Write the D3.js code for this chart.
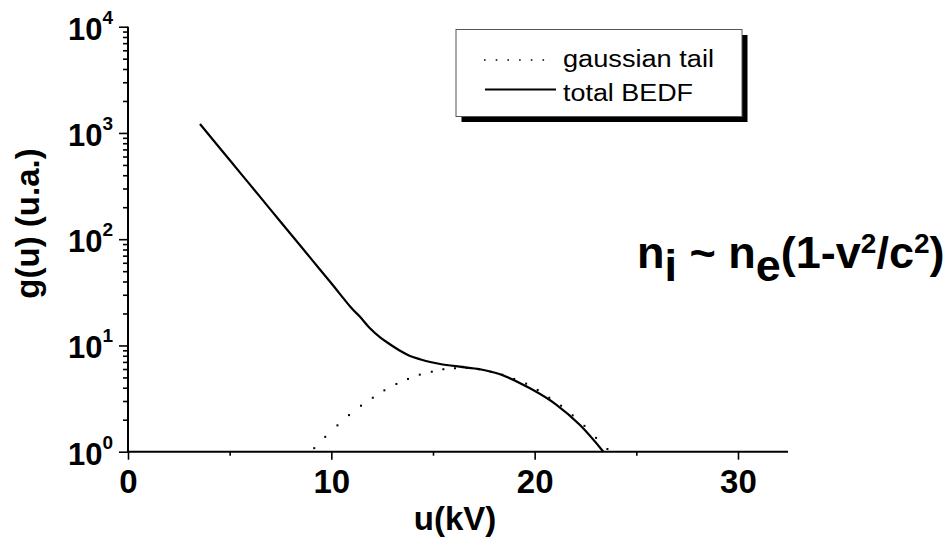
<!DOCTYPE html>
<html>
<head>
<meta charset="utf-8">
<script src="https://cdn.jsdelivr.net/npm/d3@7"></script>
<style>
  html, body { margin: 0; padding: 0; background: #fff; }
  svg { display: block; }
  text { font-family: "Liberation Sans", Arial, sans-serif; fill: #000; }
</style>
</head>
<body>
<div id="chart"></div>
<script>
// data
var totalU = [3.54, 5.0, 6.0, 7.0, 8.0, 9.0, 10.0, 11.0, 11.41, 11.9, 12.4, 12.9, 13.38, 13.87, 14.36, 14.86, 15.35,
              16.30, 17.31, 18.30, 19.77, 21.09, 22.23, 23.38];
var totalG = [1214, 556, 326, 191, 112, 65.6, 38.5, 22.4, 18.6, 14.5, 11.9, 10.2, 8.9, 7.96, 7.41, 6.99, 6.69,
              6.31, 5.97, 5.35, 3.95, 2.75, 1.78, 1.0];

var gaussU = [9.16, 9.70, 10.30, 10.87, 11.46, 12.04, 12.61, 13.20, 13.77, 14.35, 14.94, 15.51, 16.08, 16.66,
              17.27, 17.84, 18.41, 18.99, 19.58, 20.15, 20.72, 21.30, 21.87, 22.45, 23.02, 23.58];
var gaussG = [1.08, 1.38, 1.77, 2.21, 2.71, 3.22, 3.78, 4.34, 4.84, 5.31, 5.66, 5.97, 6.10, 6.15,
              5.97, 5.66, 5.31, 4.84, 4.37, 3.81, 3.22, 2.71, 2.20, 1.75, 1.35, 1.06];

var xTicks = [0, 10, 20, 30];
var xMinor = [5, 15, 25];
var yDecades = [1, 10, 100, 1000, 10000];
var yExponents = ['0', '1', '2', '3', '4'];
var legendLabels = ['gaussian tail', 'total BEDF'];

var Chart = (function () {
    var W = 949, H = 539;
    var pLeft = 128, pRight = 788, pTop = 26.7, pBottom = 451.7;

    var svg = d3.select('#chart').append('svg')
        .attr('width', W)
        .attr('height', H);

    var x = d3.scaleLinear().domain([0, 32.46]).range([pLeft, pRight]);
    var y = d3.scaleLog().domain([1, 10000]).range([pBottom, pTop]);

    // minor log ticks 2..9 per decade
    var yMinor = [];
    yDecades.slice(0, -1).forEach(function (d) {
        for (var k = 2; k <= 9; k++) yMinor.push(d * k);
    });

    // y axis
    var yAxisMinor = svg.append('g')
        .attr('transform', 'translate(' + pLeft + ',0)')
        .call(d3.axisLeft(y).tickValues(yMinor).tickSize(5).tickFormat(''));
    var yAxis = svg.append('g')
        .attr('transform', 'translate(' + pLeft + ',0)')
        .call(d3.axisLeft(y).tickValues(yDecades).tickSize(9).tickFormat(''));

    // x axis
    var xAxisMinor = svg.append('g')
        .attr('transform', 'translate(0,' + pBottom + ')')
        .call(d3.axisBottom(x).tickValues(xMinor).tickSize(4).tickFormat(''));
    var xAxis = svg.append('g')
        .attr('transform', 'translate(0,' + pBottom + ')')
        .call(d3.axisBottom(x).tickValues(xTicks).tickSize(8).tickFormat(d3.format('d')));

    svg.selectAll('.domain').attr('stroke', '#000').attr('stroke-width', 2);
    svg.selectAll('.tick line').attr('stroke', '#000').attr('stroke-width', 1.6);
    yAxisMinor.select('.domain').remove();
    xAxisMinor.select('.domain').remove();
    yAxis.select('.domain').attr('d', 'M0,' + pTop + 'V' + (pBottom + 1));
    xAxis.select('.domain').attr('d', 'M' + (pLeft - 1) + ',0H' + pRight);

    xAxis.selectAll('.tick text')
        .attr('y', 41)
        .attr('dy', null)
        .attr('fill', '#000')
        .style('font-size', '33px')
        .style('font-weight', 'bold')
        .style('font-family', '"Liberation Sans", Arial, sans-serif');

    // y tick labels: 10 with superscript exponent
    yDecades.forEach(function (d, i) {
        var t = svg.append('text')
            .attr('x', 113)
            .attr('y', y(d) + 13)
            .attr('text-anchor', 'end')
            .style('font-weight', 'bold')
            .style('font-size', '31px')
            .text('10');
        t.append('tspan')
            .attr('dy', -16)
            .style('font-size', '19px')
            .text(yExponents[i]);
    });

    // axis titles
    svg.append('text')
        .attr('x', 455)
        .attr('y', 530)
        .attr('text-anchor', 'middle')
        .style('font-weight', 'bold')
        .style('font-size', '33px')
        .text('u(kV)');

    svg.append('text')
        .attr('transform', 'translate(39,223.5) rotate(-90)')
        .attr('text-anchor', 'middle')
        .style('font-weight', 'bold')
        .style('font-size', '33px')
        .text('g(u) (u.a.)');

    // curves
    svg.append('clipPath').attr('id', 'plotClip')
      .append('rect')
        .attr('x', pLeft).attr('y', pTop)
        .attr('width', pRight - pLeft).attr('height', pBottom - pTop + 1);

    var totalData = totalU.map(function (u, i) { return [u, totalG[i]]; });
    var gaussData = gaussU.map(function (u, i) { return [u, gaussG[i]]; });

    var line = d3.line()
        .x(function (d) { return x(d[0]); })
        .y(function (d) { return y(d[1]); })
        .curve(d3.curveCatmullRom.alpha(0.5));

    var plot = svg.append('g').attr('clip-path', 'url(#plotClip)');

    plot.append('path')
        .datum(totalData)
        .attr('d', line)
        .attr('fill', 'none')
        .attr('stroke', '#000')
        .attr('stroke-width', 2.2);

    plot.selectAll('rect.dot')
        .data(gaussData)
        .enter().append('rect')
            .attr('class', 'dot')
            .attr('x', function (d) { return x(d[0]) - 1; })
            .attr('y', function (d) { return y(d[1]) - 1; })
            .attr('width', 2)
            .attr('height', 2)
            .attr('fill', '#000');

    // legend box with drop shadow
    var lg = svg.append('g');
    lg.append('rect')
        .attr('x', 461.5).attr('y', 35)
        .attr('width', 286).attr('height', 87)
        .attr('fill', '#000');
    lg.append('rect')
        .attr('x', 456).attr('y', 29.5)
        .attr('width', 286).attr('height', 87)
        .attr('fill', '#fff')
        .attr('stroke', '#555')
        .attr('stroke-width', 1);

    lg.append('line')
        .attr('x1', 484).attr('x2', 548)
        .attr('y1', 60).attr('y2', 60)
        .attr('stroke', '#000')
        .attr('stroke-width', 1.6)
        .attr('stroke-dasharray', '1.6,10.1');
    lg.append('line')
        .attr('x1', 485).attr('x2', 556)
        .attr('y1', 89.5).attr('y2', 89.5)
        .attr('stroke', '#000')
        .attr('stroke-width', 2);

    lg.selectAll('text.leg')
        .data(legendLabels)
        .enter().append('text')
            .attr('class', 'leg')
            .attr('x', 563)
            .attr('y', function (d, i) { return 67 + i * 34; })
            .attr('textLength', function (d, i) { return i === 0 ? 151 : 130; })
            .attr('lengthAdjust', 'spacingAndGlyphs')
            .style('font-size', '23px')
            .text(function (d) { return d; });

    // annotation
    var ann = svg.append('text')
        .attr('x', 637)
        .attr('y', 268)
        .style('font-weight', 'bold')
        .style('font-size', '45px');
    ann.append('tspan').text('n');
    ann.append('tspan').attr('dy', 13).text('i');
    ann.append('tspan').attr('dy', -13).text(' ~ n');
    ann.append('tspan').attr('dy', 13).text('e');
    ann.append('tspan').attr('dy', -13).text('(1-v');
    ann.append('tspan').attr('dy', -15).style('font-size', '28px').text('2');
    ann.append('tspan').attr('dy', 15).text('/c');
    ann.append('tspan').attr('dy', -15).style('font-size', '28px').text('2');
    ann.append('tspan').attr('dy', 15).text(')');

    return svg;
})();
</script>
</body>
</html>
